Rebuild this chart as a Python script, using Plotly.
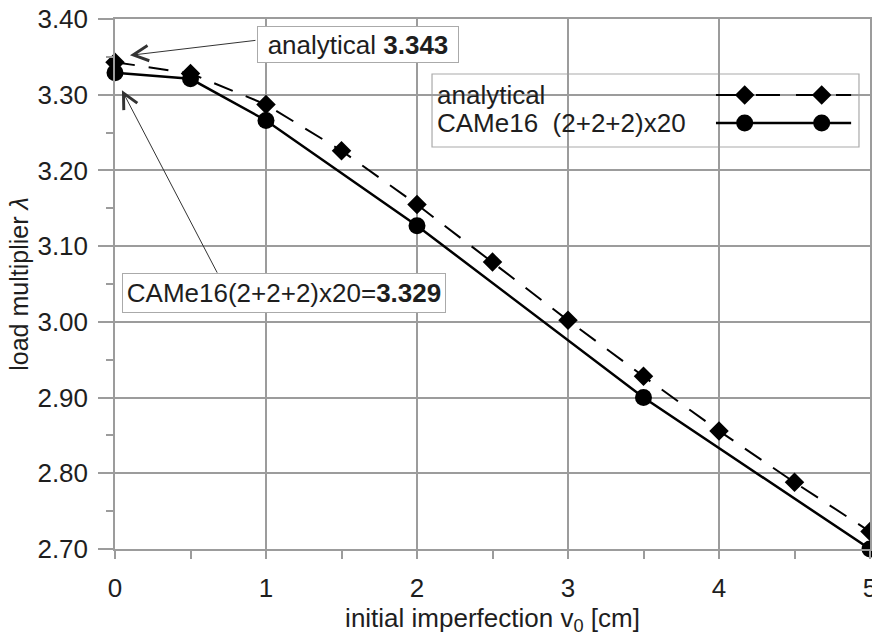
import plotly.graph_objects as go

# ---- data ----
x_analytical = [0, 0.5, 1, 1.5, 2, 2.5, 3, 3.5, 4, 4.5, 5]
y_analytical = [3.343, 3.328, 3.287, 3.226, 3.155, 3.079, 3.002, 2.928, 2.856, 2.788, 2.723]
x_came = [0, 0.5, 1, 2, 3.5, 5]
y_came = [3.329, 3.321, 3.266, 3.127, 2.900, 2.700]
name_analytical = "analytical"
name_came = "CAMe16  (2+2+2)x20"
label_analytical = "analytical <b>3.343</b>"
label_came = "CAMe16(2+2+2)x20=<b>3.329</b>"

FONT = "Liberation Sans, Arial, sans-serif"
TXT = "#1e1e1e"
GRID = "#9c9c9c"

fig = go.Figure()

fig.add_trace(go.Scatter(
    x=x_analytical, y=y_analytical, mode="lines+markers", name=name_analytical,
    line=dict(color="black", width=2, dash="20px,14px"),
    marker=dict(symbol="diamond", size=15, color="black"),
    cliponaxis=False, showlegend=False))
fig.add_trace(go.Scatter(
    x=x_came, y=y_came, mode="lines+markers", name=name_came,
    line=dict(color="black", width=2.5),
    marker=dict(symbol="circle", size=17, color="black"),
    cliponaxis=False, showlegend=False))

# ---- hand-made legend (text left, symbols right) on an overlay axis ----
leg_x_line = [0.796, 0.975]
leg_x_mark = [0.834, 0.936]
row1, row2 = 0.8566, 0.8038
fig.add_trace(go.Scatter(x=leg_x_line, y=[row1, row1], mode="lines", xaxis="x2", yaxis="y2",
                         line=dict(color="black", width=2, dash="24px,16px"), showlegend=False, hoverinfo="skip"))
fig.add_trace(go.Scatter(x=leg_x_mark, y=[row1, row1], mode="markers", xaxis="x2", yaxis="y2",
                         marker=dict(symbol="diamond", size=15, color="black"), showlegend=False, hoverinfo="skip"))
fig.add_trace(go.Scatter(x=leg_x_line, y=[row2, row2], mode="lines", xaxis="x2", yaxis="y2",
                         line=dict(color="black", width=2.5), showlegend=False, hoverinfo="skip"))
fig.add_trace(go.Scatter(x=leg_x_mark, y=[row2, row2], mode="markers", xaxis="x2", yaxis="y2",
                         marker=dict(symbol="circle", size=17, color="black"), showlegend=False, hoverinfo="skip"))

fig.add_shape(type="rect", xref="x2", yref="y2", x0=0.4199, x1=0.9854, y0=0.7585, y1=0.8962,
              fillcolor="white", line=dict(color="#aaaaaa", width=1.2), layer="below")

annots = [
    dict(x=0.425, y=row1, xref="paper", yref="paper", text=name_analytical, showarrow=False,
         xanchor="left", yanchor="middle", borderpad=0, font=dict(size=26, color=TXT, family=FONT)),
    dict(x=0.425, y=row2, xref="paper", yref="paper", text=name_came, showarrow=False,
         xanchor="left", yanchor="middle", borderpad=0, font=dict(size=26, color=TXT, family=FONT)),
    # arrows
    dict(x=0.099, y=3.352, ax=0.940, ay=3.372, xref="x", yref="y", axref="x", ayref="y", text="",
         showarrow=True, arrowhead=5, arrowsize=3, arrowwidth=1, arrowcolor="#333333"),
    dict(x=0.046, y=3.306, ax=0.682, ay=3.063, xref="x", yref="y", axref="x", ayref="y", text="",
         showarrow=True, arrowhead=5, arrowsize=3, arrowwidth=1, arrowcolor="#333333"),
    # label boxes
    dict(x=1.606, y=3.366, xref="x", yref="y", text=label_analytical, showarrow=False,
         bgcolor="white", bordercolor="#aaaaaa", borderwidth=1, borderpad=2, width=196, height=31,
         font=dict(size=26, color=TXT, family=FONT)),
    dict(x=1.119, y=3.038, xref="x", yref="y", text=label_came, showarrow=False,
         bgcolor="white", bordercolor="#aaaaaa", borderwidth=1, borderpad=2, width=318, height=34,
         font=dict(size=26, color=TXT, family=FONT)),
]

fig.update_layout(
    width=872, height=637,
    margin=dict(l=115, r=2, t=19, b=88, autoexpand=False),
    paper_bgcolor="white", plot_bgcolor="white",
    font=dict(family=FONT, size=26, color=TXT),
    annotations=annots,
    xaxis=dict(range=[0, 5], dtick=1, tick0=0, showgrid=True, gridcolor=GRID, gridwidth=1.5,
               showline=True, mirror=True, linecolor=GRID, linewidth=1.5, automargin=False,
               ticks="outside", ticklen=8, tickcolor=GRID, tickwidth=1.5, zeroline=False,
               ticklabeloverflow="allow", ticklabelstandoff=7,
               minor=dict(dtick=0.5, ticks="outside", ticklen=8, tickcolor=GRID, tickwidth=1.5, showgrid=False),
               tickfont=dict(size=26, color=TXT, family=FONT),
               title=dict(text="initial imperfection v<sub>0</sub> [cm]", standoff=2,
                          font=dict(size=26, color=TXT, family=FONT))),
    yaxis=dict(range=[2.70, 3.40], dtick=0.1, tick0=2.7, tickformat=".2f", showgrid=True,
               gridcolor=GRID, gridwidth=1.5, showline=True, mirror=True, linecolor=GRID, linewidth=1.5,
               ticks="outside", ticklen=15, tickcolor=GRID, tickwidth=1.5, zeroline=False,
               ticklabelstandoff=5, automargin=False,
               minor=dict(dtick=0.05, ticks="outside", ticklen=7, tickcolor=GRID, tickwidth=1.5, showgrid=False),
               tickfont=dict(size=26, color=TXT, family=FONT),
               title=dict(text="load multiplier <i>λ</i>", standoff=2,
                          font=dict(size=25, color=TXT, family=FONT))),
    xaxis2=dict(overlaying="x", range=[0, 1], visible=False, showgrid=False, zeroline=False),
    yaxis2=dict(overlaying="y", range=[0, 1], visible=False, showgrid=False, zeroline=False),
)

fig.write_html("out.html")
